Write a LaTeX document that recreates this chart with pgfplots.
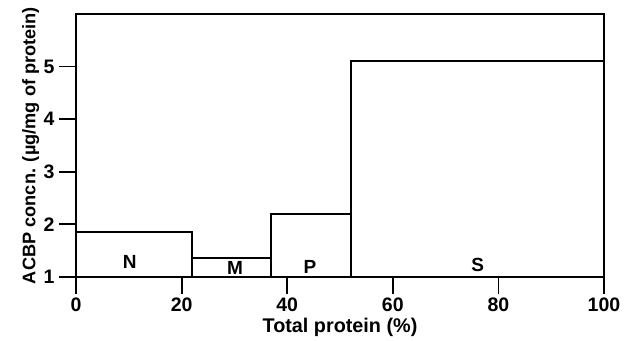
\documentclass[border=0pt]{standalone}
\usepackage{fontspec}
\setmainfont{Liberation Sans}
\usepackage{pgfplots}
\pgfplotsset{compat=1.18}
\begin{document}
\begin{tikzpicture}
\begin{axis}[
  scale only axis,
  width=528pt, height=263pt,
  xmin=0, xmax=100, ymin=1, ymax=6,
  xtick={0,20,40,60,80,100},
  ytick={1,2,3,4,5},
  xtick pos=bottom, ytick pos=left,
  tick align=outside,
  major tick length=17pt,
  every tick/.style={black, line width=1.8pt},
  axis line style={line width=2pt},
  /pgf/number format/assume math mode=true,
  tick label style={font=\bfseries\fontsize{19.5}{23}\selectfont},
  xticklabel style={yshift=0pt},
  yticklabel style={xshift=-1pt},
  xlabel={Total protein (\%)},
  ylabel={ACBP concn. (µg/mg of protein)},
  xlabel style={font=\bfseries\fontsize{19.8}{23}\selectfont, at={(axis description cs:0.5,-0.19)}, anchor=center},
  ylabel style={font=\bfseries\fontsize{18.2}{22}\selectfont, at={(axis description cs:-0.086,0.5)}, anchor=center},
  clip=true,
]
\coordinate (sw) at (rel axis cs:0,0);
\coordinate (ne) at (rel axis cs:1,1);
\addplot[ybar interval, fill=none, draw=black, line width=2pt]
  coordinates {(0,1.85) (22,1.37) (37,2.19) (52,5.11) (100,5.11)};
\node[font=\bfseries\fontsize{19}{23}\selectfont] at (axis cs:10.2,1.29) {N};
\node[font=\bfseries\fontsize{19}{23}\selectfont] at (axis cs:30.1,1.17) {M};
\node[font=\bfseries\fontsize{19}{23}\selectfont] at (axis cs:44.3,1.2) {P};
\node[font=\bfseries\fontsize{19}{23}\selectfont] at (axis cs:76.1,1.23) {S};
\end{axis}
\useasboundingbox ([shift={(-76pt,-64pt)}]sw) rectangle ([shift={(29pt,14pt)}]ne);
\end{tikzpicture}
\end{document}
